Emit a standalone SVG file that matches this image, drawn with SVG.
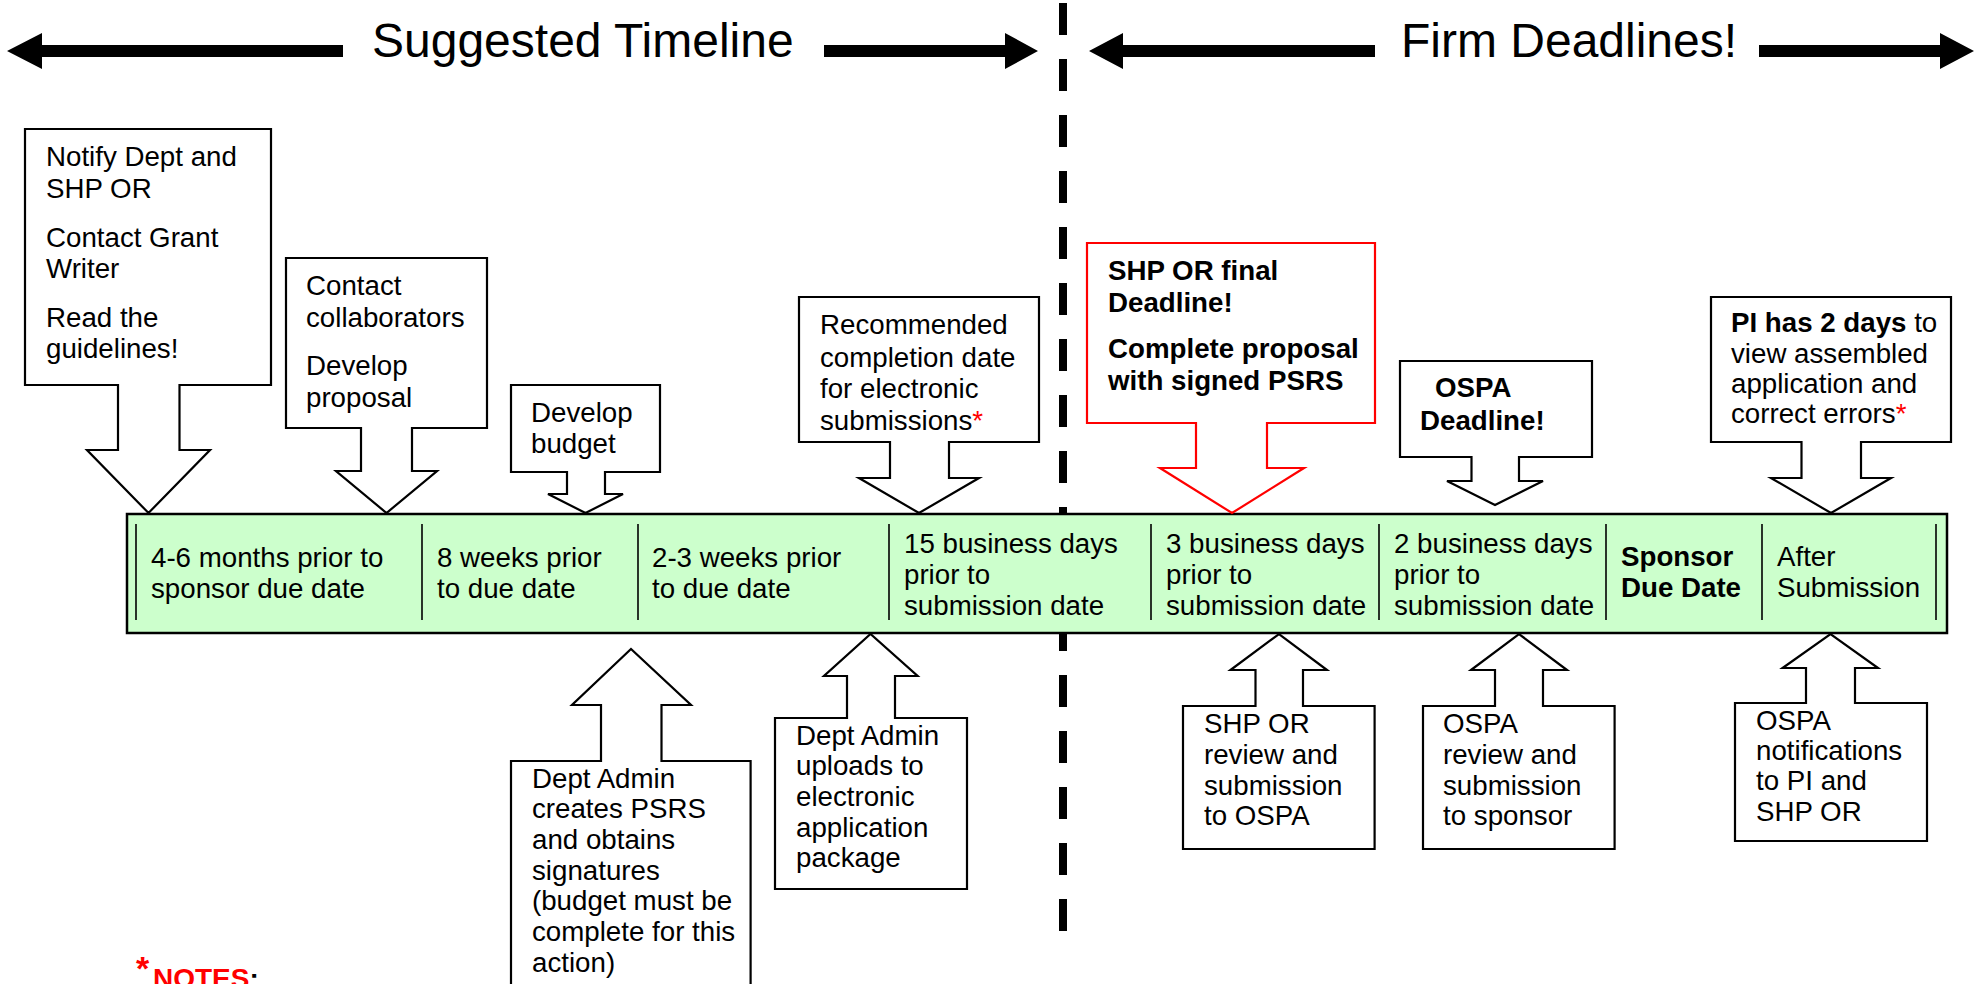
<svg xmlns="http://www.w3.org/2000/svg" width="1984" height="984" viewBox="0 0 1984 984">
<defs>
<style>
.box{fill:#fff;stroke:#000;stroke-width:2.2;stroke-linejoin:miter}
.redbox{fill:#fff;stroke:#ff0000;stroke-width:2.2}
.bar{fill:#ccffcc;stroke:#000;stroke-width:2.5}
.div{stroke:#000;stroke-width:1.6}
.t{font-family:"Liberation Sans",Arial,Helvetica,sans-serif;font-size:27.7px;fill:#000}
.b{font-weight:bold}
.title{font-family:"Liberation Sans",Arial,Helvetica,sans-serif;font-size:48px;fill:#000}
.ast{fill:#ff0000}
.arrow{fill:#000}
</style>
</defs>
<rect width="1984" height="984" fill="#fff"/>

<g id="connectors">
  <line x1="1063" y1="3" x2="1063" y2="931" stroke="#000" stroke-width="8" stroke-dasharray="32 24"/>
  <polygon class="arrow" points="7,51 42,33 42,45 343,45 343,57 42,57 42,69"/>
  <polygon class="arrow" points="1038,51 1005,33 1005,45 824,45 824,57 1005,57 1005,69"/>
  <polygon class="arrow" points="1089,51 1123,33 1123,45 1375,45 1375,57 1123,57 1123,69"/>
  <polygon class="arrow" points="1974,51 1940,33 1940,45 1759,45 1759,57 1940,57 1940,69"/>
  <text class="title" x="372" y="57">Suggested Timeline</text>
  <text class="title" x="1401" y="57">Firm Deadlines!</text>
</g>

<g id="timeline">
  <rect class="bar" x="127" y="514" width="1820" height="119"/>
  <line class="div" x1="136" y1="524" x2="136" y2="620"/>
  <line class="div" x1="422" y1="524" x2="422" y2="620"/>
  <line class="div" x1="638" y1="524" x2="638" y2="620"/>
  <line class="div" x1="889" y1="524" x2="889" y2="620"/>
  <line class="div" x1="1151" y1="524" x2="1151" y2="620"/>
  <line class="div" x1="1379" y1="524" x2="1379" y2="620"/>
  <line class="div" x1="1606" y1="524" x2="1606" y2="620"/>
  <line class="div" x1="1762" y1="524" x2="1762" y2="620"/>
  <line class="div" x1="1936" y1="524" x2="1936" y2="620"/>
  <text class="t" x="151" y="567">4-6 months prior to<tspan x="151" y="598">sponsor due date</tspan></text>
  <text class="t" x="437" y="567">8 weeks prior<tspan x="437" y="598">to due date</tspan></text>
  <text class="t" x="652" y="567">2-3 weeks prior<tspan x="652" y="598">to due date</tspan></text>
  <text class="t" x="904" y="553">15 business days<tspan x="904" y="584">prior to</tspan><tspan x="904" y="615">submission date</tspan></text>
  <text class="t" x="1166" y="553">3 business days<tspan x="1166" y="584">prior to</tspan><tspan x="1166" y="615">submission date</tspan></text>
  <text class="t" x="1394" y="553">2 business days<tspan x="1394" y="584">prior to</tspan><tspan x="1394" y="615">submission date</tspan></text>
  <text class="t b" x="1621" y="566">Sponsor<tspan x="1621" y="597">Due Date</tspan></text>
  <text class="t" x="1777" y="566">After<tspan x="1777" y="597">Submission</tspan></text>
</g>

<g id="notify">
  <polygon class="box" points="25,129 271,129 271,385 179.5,385 179.5,450 210,450 148.5,513 87,450 118,450 118,385 25,385"/>
  <text class="t" x="46" y="166">Notify Dept and<tspan x="46" y="198">SHP OR</tspan><tspan x="46" y="247">Contact Grant</tspan><tspan x="46" y="278">Writer</tspan><tspan x="46" y="327">Read the</tspan><tspan x="46" y="358">guidelines!</tspan></text>
</g>

<g id="collaborators">
  <polygon class="box" points="286,258 487,258 487,428 412,428 412,471 437,471 386.5,513 336,471 361,471 361,428 286,428"/>
  <text class="t" x="306" y="295">Contact<tspan x="306" y="327">collaborators</tspan><tspan x="306" y="375">Develop</tspan><tspan x="306" y="407">proposal</tspan></text>
</g>

<g id="budget">
  <polygon class="box" points="511,385 660,385 660,472 605,472 605,494 623,494 585.5,513 548,494 567,494 567,472 511,472"/>
  <text class="t" x="531" y="422">Develop<tspan x="531" y="453">budget</tspan></text>
</g>

<g id="recommended">
  <polygon class="box" points="799,297 1039,297 1039,442 949,442 949,478 979,478 919,513 859,478 890,478 890,442 799,442"/>
  <text class="t" x="820" y="334">Recommended<tspan x="820" y="367">completion date</tspan><tspan x="820" y="398">for electronic</tspan><tspan x="820" y="430">submissions<tspan class="ast">*</tspan></tspan></text>
</g>

<g id="shp-final">
  <polygon class="redbox" points="1087,243 1375,243 1375,423 1267,423 1267,468 1304,468 1232,513 1160,468 1196,468 1196,423 1087,423"/>
  <text class="t b" x="1108" y="280">SHP OR final<tspan x="1108" y="312">Deadline!</tspan><tspan x="1108" y="358">Complete proposal</tspan><tspan x="1108" y="390">with signed PSRS</tspan></text>
</g>

<g id="ospa-deadline">
  <polygon class="box" points="1400,361 1592,361 1592,457 1519,457 1519,481 1543,481 1495,505 1447,481 1471.5,481 1471.5,457 1400,457"/>
  <text class="t b" x="1435" y="397">OSPA<tspan x="1420" y="430">Deadline!</tspan></text>
</g>

<g id="pi-days">
  <polygon class="box" points="1711,297 1951,297 1951,442 1861,442 1861,478 1891,478 1831,513 1771,478 1801.5,478 1801.5,442 1711,442"/>
  <text class="t" x="1731" y="332"><tspan class="b">PI has 2 days</tspan> to<tspan x="1731" y="363">view assembled</tspan><tspan x="1731" y="393">application and</tspan><tspan x="1731" y="423">correct errors<tspan class="ast">*</tspan></tspan></text>
</g>

<g id="psrs">
  <polygon class="box" points="511,761 601,761 601,705 572,705 631,649 691,705 661.5,705 661.5,761 750.6,761 750.6,992 511,992"/>
  <text class="t" x="532" y="788">Dept Admin<tspan x="532" y="818">creates PSRS</tspan><tspan x="532" y="849">and obtains</tspan><tspan x="532" y="880">signatures</tspan><tspan x="532" y="910">(budget must be</tspan><tspan x="532" y="941">complete for this</tspan><tspan x="532" y="972">action)</tspan></text>
</g>

<g id="upload">
  <polygon class="box" points="775,718 847,718 847,676 824,676 870.5,634 917.6,676 895,676 895,718 967,718 967,889 775,889"/>
  <text class="t" x="796" y="745">Dept Admin<tspan x="796" y="775">uploads to</tspan><tspan x="796" y="806">electronic</tspan><tspan x="796" y="837">application</tspan><tspan x="796" y="867">package</tspan></text>
</g>

<g id="shp-review">
  <polygon class="box" points="1183,706 1255.5,706 1255.5,670 1230.5,670 1279,634 1327,670 1303,670 1303,706 1374.6,706 1374.6,849 1183,849"/>
  <text class="t" x="1204" y="733">SHP OR<tspan x="1204" y="764">review and</tspan><tspan x="1204" y="795">submission</tspan><tspan x="1204" y="825">to OSPA</tspan></text>
</g>

<g id="ospa-review">
  <polygon class="box" points="1423,706 1495,706 1495,670 1471,670 1519,634 1567,670 1543,670 1543,706 1614.6,706 1614.6,849 1423,849"/>
  <text class="t" x="1443" y="733">OSPA<tspan x="1443" y="764">review and</tspan><tspan x="1443" y="795">submission</tspan><tspan x="1443" y="825">to sponsor</tspan></text>
</g>

<g id="notifications">
  <polygon class="box" points="1735,703 1806,703 1806,668 1782.6,668 1830.5,634 1878,668 1855,668 1855,703 1927,703 1927,841 1735,841"/>
  <text class="t" x="1756" y="730">OSPA<tspan x="1756" y="760">notifications</tspan><tspan x="1756" y="790">to PI and</tspan><tspan x="1756" y="821">SHP OR</tspan></text>
</g>

<g id="notes">
  <text class="t b" x="136" y="980" style="font-size:34px;fill:#ff0000">*</text>
  <text class="t b" x="153" y="988" style="font-size:28px"><tspan fill="#ff0000">NOTES</tspan>:</text>
</g>
</svg>
